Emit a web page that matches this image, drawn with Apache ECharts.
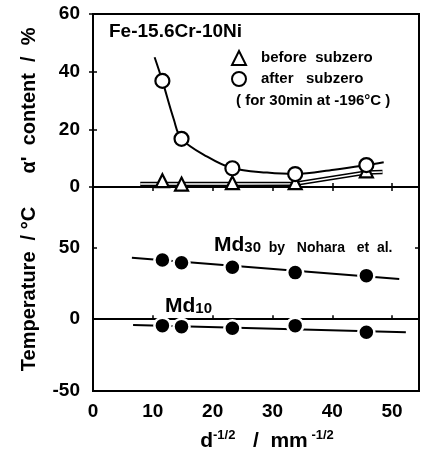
<!DOCTYPE html>
<html>
<head>
<meta charset="utf-8">
<script src="https://cdn.jsdelivr.net/npm/echarts@6/dist/echarts.min.js"></script>
<style>
html,body{margin:0;padding:0;background:#fff;}
#chart{width:422px;height:456px;}
</style>
</head>
<body>
<div id="chart"></div>
<script>
// ---- data ----
const grainX = [11.6, 14.8, 23.3, 33.8, 45.7];          // d^-1/2 (mm^-1/2)
const alphaBefore = [2.2, 1.0, 1.5, 1.5, 5.6];           // α' content before subzero (%)
const alphaAfter = [36.8, 16.7, 6.5, 4.5, 7.6];          // α' content after subzero (%)
const afterCurveX = [10.3, 11.6, 13.5, 14.8, 19.1, 23.3, 29.1, 33.8, 40.3, 45.7, 48.6];
const afterCurveY = [45.0, 36.8, 23.5, 16.7, 10.5, 6.5, 5.0, 4.5, 6.0, 7.6, 8.6];
const beforeCurveX = [7.9, 11.6, 14.8, 23.3, 33.8, 45.7, 48.4];
const beforeCurveY = [1.0, 1.0, 1.0, 1.0, 1.1, 5.0, 5.2];
const md30 = [41.2, 39.3, 36.1, 32.4, 30.3];             // Md30 temperature (°C)
const md10 = [-4.5, -5.2, -6.3, -4.5, -9.1];             // Md10 temperature (°C)
const md30LineX = [6.5, 51.2];
const md30LineY = [42.7, 27.9];
const md10LineX = [6.7, 52.3];
const md10LineY = [-4.0, -9.1];
const xTicks = [0, 10, 20, 30, 40, 50];
const topTicks = [0, 20, 40, 60];
const bottomTicks = [-50, 0, 50];

const zip = (xs, ys) => xs.map((x, i) => [x, ys[i]]);

const FONT = 'Liberation Sans';
const labelStyle = {color: '#000', fontFamily: FONT, fontWeight: 'bold', fontSize: 19};
const lineStyleAxis = {color: '#000', width: 2};

function baseX(grid, pos, showLabels) {
  return {
    type: 'value', gridIndex: grid, position: pos, min: 0, max: 54.5, interval: 10,
    axisLine: {show: true, lineStyle: lineStyleAxis},
    axisTick: {show: true, inside: true, length: 4, lineStyle: {color: '#000', width: 1.5}},
    splitLine: {show: false},
    axisLabel: showLabels ? Object.assign({margin: 11,
      formatter: v => xTicks.indexOf(v) >= 0 ? String(v) : ''}, labelStyle) : {show: false}
  };
}
function baseY(grid, pos, min, max, ticks, showLabels) {
  return {
    type: 'value', gridIndex: grid, position: pos, min: min, max: max, interval: ticks[1] - ticks[0],
    axisLine: {show: true, lineStyle: lineStyleAxis},
    axisTick: {show: true, inside: true, length: 4, lineStyle: {color: '#000', width: 1.5}},
    splitLine: {show: false},
    axisLabel: showLabels ? Object.assign({margin: 13,
      formatter: v => ticks.indexOf(v) >= 0 ? String(v) : ''}, labelStyle) : {show: false}
  };
}

const xA0 = baseX(0, 'bottom', false);
const xA1 = baseX(0, 'top', false);
const xA2 = baseX(1, 'bottom', true);
xA2.name = '{b|d}{s|-1/2}{b|   /  mm}{s| -1/2}';
xA2.nameLocation = 'middle';
xA2.nameGap = 38;
xA2.nameTextStyle = {
  color: '#000', padding: [0, 0, 0, 22],
  rich: {
    b: {fontFamily: FONT, fontWeight: 'bold', fontSize: 21, color: '#000', lineHeight: 24},
    s: {fontFamily: FONT, fontWeight: 'bold', fontSize: 13, color: '#000', verticalAlign: 'top', lineHeight: 12, padding: [0, 0, 10, 0]}
  }
};

const yA0 = baseY(0, 'left', 0, 60, topTicks, true);
yA0.name = "α'  content  /  %";
yA0.nameLocation = 'middle';
yA0.nameGap = 54;
yA0.nameTextStyle = {color: '#000', fontFamily: FONT, fontWeight: 'bold', fontSize: 20};
const yA1 = baseY(0, 'right', 0, 60, topTicks, false);
const yA2 = baseY(1, 'left', -50, 92, bottomTicks, true);
yA2.name = 'Temperature  / °C';
yA2.nameLocation = 'middle';
yA2.nameGap = 54;
yA2.nameTextStyle = {color: '#000', fontFamily: FONT, fontWeight: 'bold', fontSize: 20};
const yA3 = baseY(1, 'right', -50, 92, bottomTicks, false);

const option = {
  animation: false,
  backgroundColor: '#fff',
  grid: [
    {left: 93, top: 14, width: 326, height: 173, show: true, borderColor: '#000', borderWidth: 2, backgroundColor: 'transparent'},
    {left: 93, top: 187, width: 326, height: 204, show: true, borderColor: '#000', borderWidth: 2, backgroundColor: 'transparent'}
  ],
  xAxis: [xA0, xA1, xA2],
  yAxis: [yA0, yA1, yA2, yA3],
  legend: {
    orient: 'vertical', left: 226, top: 45, itemWidth: 14, itemHeight: 14, itemGap: 5,
    textStyle: {color: '#000', fontFamily: FONT, fontWeight: 'bold', fontSize: 15, padding: [0, 0, 0, 10]},
    data: [{name: 'before  subzero', icon: 'triangle'}, {name: 'after   subzero', icon: 'circle'}],
    itemStyle: {color: '#fff', borderColor: '#000', borderWidth: 2}
  },
  graphic: [
    {type: 'text', x: 109, y: 32, style: {text: 'Fe-15.6Cr-10Ni', font: 'bold 19px "Liberation Sans"', fill: '#000', verticalAlign: 'middle'}},
    {type: 'text', x: 236, y: 101, style: {text: '( for 30min at -196°C )', font: 'bold 15px "Liberation Sans"', fill: '#000', verticalAlign: 'middle'}},
    {type: 'text', x: 214, y: 245, style: {
      text: '{a|Md}{b|30}{c|  by   Nohara   et  al.}', verticalAlign: 'middle',
      rich: {
        a: {fontFamily: FONT, fontWeight: 'bold', fontSize: 21, fill: '#000', verticalAlign: 'bottom'},
        b: {fontFamily: FONT, fontWeight: 'bold', fontSize: 15, fill: '#000', verticalAlign: 'bottom'},
        c: {fontFamily: FONT, fontWeight: 'bold', fontSize: 14, fill: '#000', verticalAlign: 'bottom'}
      }}},
    {type: 'text', x: 165, y: 306, style: {
      text: '{a|Md}{b|10}', verticalAlign: 'middle',
      rich: {
        a: {fontFamily: FONT, fontWeight: 'bold', fontSize: 21, fill: '#000', verticalAlign: 'bottom'},
        b: {fontFamily: FONT, fontWeight: 'bold', fontSize: 15, fill: '#000', verticalAlign: 'bottom'}
      }}}
  ],
  series: [
    // top panel fitted curves
    {type: 'line', xAxisIndex: 0, yAxisIndex: 0, data: zip(beforeCurveX, beforeCurveY), symbol: 'none',
     lineStyle: {color: '#000', width: 4.5}, z: 2, silent: true},
    {type: 'line', xAxisIndex: 0, yAxisIndex: 0, data: zip(beforeCurveX, beforeCurveY), symbol: 'none',
     lineStyle: {color: '#fff', width: 1.5}, z: 3, silent: true},
    {type: 'line', xAxisIndex: 0, yAxisIndex: 0, data: zip(afterCurveX, afterCurveY), symbol: 'none', smooth: 0.35,
     lineStyle: {color: '#000', width: 2}, z: 4, silent: true},
    // top panel markers
    {name: 'before  subzero', type: 'scatter', xAxisIndex: 0, yAxisIndex: 0, data: zip(grainX, alphaBefore),
     symbol: 'triangle', symbolSize: 13, itemStyle: {color: '#fff', borderColor: '#000', borderWidth: 2.2, opacity: 1}, z: 6},
    {name: 'after   subzero', type: 'scatter', xAxisIndex: 0, yAxisIndex: 0, data: zip(grainX, alphaAfter),
     symbol: 'circle', symbolSize: 14, itemStyle: {color: '#fff', borderColor: '#000', borderWidth: 2.2, opacity: 1}, z: 7},
    // bottom panel lines
    {type: 'line', xAxisIndex: 2, yAxisIndex: 2, data: zip(md30LineX, md30LineY), symbol: 'none',
     lineStyle: {color: '#000', width: 2}, z: 2, silent: true},
    {type: 'line', xAxisIndex: 2, yAxisIndex: 2, data: zip(md10LineX, md10LineY), symbol: 'none',
     lineStyle: {color: '#000', width: 2}, z: 2, silent: true},
    // bottom panel markers
    {name: 'Md30', type: 'scatter', xAxisIndex: 2, yAxisIndex: 2, data: zip(grainX, md30),
     symbol: 'circle', symbolSize: 16, itemStyle: {color: '#000', borderColor: '#fff', borderWidth: 2.5, opacity: 1}, z: 6},
    {name: 'Md10', type: 'scatter', xAxisIndex: 2, yAxisIndex: 2, data: zip(grainX, md10),
     symbol: 'circle', symbolSize: 16, itemStyle: {color: '#000', borderColor: '#fff', borderWidth: 2.5, opacity: 1}, z: 6}
  ]
};

const chart = echarts.init(document.getElementById('chart'), null, {renderer: 'canvas'});
chart.setOption(option);
</script>
</body>
</html>
